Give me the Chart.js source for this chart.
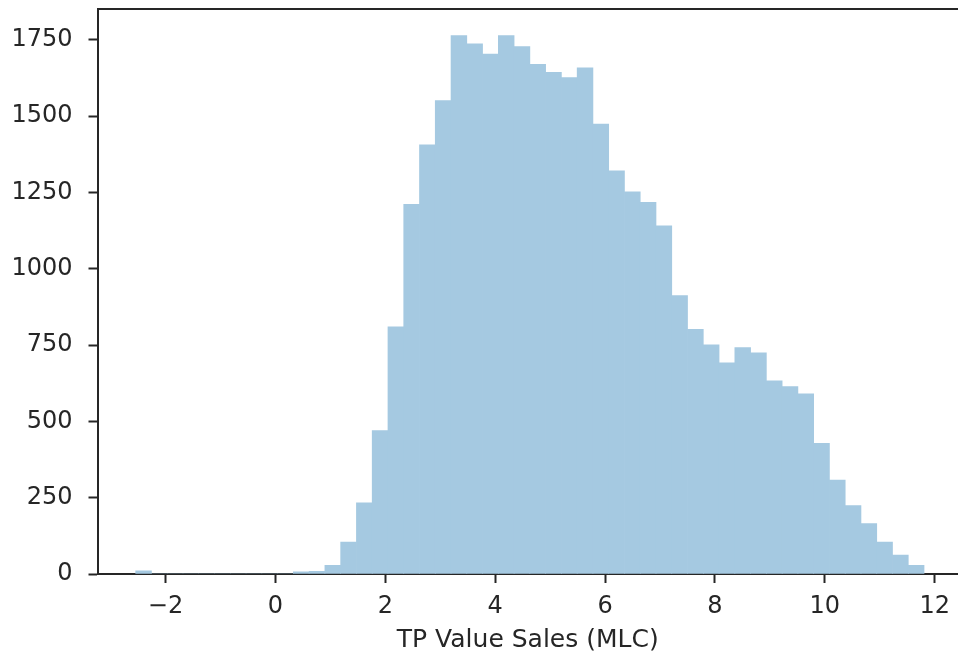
<!DOCTYPE html>
<html>
<head>
<meta charset="utf-8">
<script src="https://cdn.jsdelivr.net/npm/chart.js@4/dist/chart.umd.min.js"></script>
<style>
  html, body { margin: 0; padding: 0; background: #ffffff; overflow: hidden; }
  #wrap { position: relative; width: 958px; height: 657px; }
</style>
</head>
<body>
<div id="wrap"><canvas id="hist" width="958" height="657"></canvas></div>
<script>
// Histogram of TP value sales: 50 equal-width bins
const binStart = -2.543;
const binWidth = 0.28698;
const binCounts = [
  10, 0, 0, 0, 0, 0, 0, 0, 0, 0,
  7, 9, 28, 105, 233, 470, 810, 1211, 1406, 1551,
  1764, 1737, 1704, 1764, 1728, 1670, 1644, 1627, 1659, 1474,
  1321, 1252, 1218, 1141, 912, 802, 751, 692, 742, 725,
  633, 614, 590, 428, 308, 224, 165, 105, 62, 28
];
const xTickValues = [-2, 0, 2, 4, 6, 8, 10, 12];
const yTickValues = [0, 250, 500, 750, 1000, 1250, 1500, 1750];
const xTitle = 'TP Value Sales (MLC)';

const xRange = [-3.238, 12.424];
const yRange = [0, 1853];

const points = binCounts.map((c, i) => ({ x: binStart + binWidth * (i + 0.5), y: c }));

const FONT = { family: '"DejaVu Sans", sans-serif', size: 24 };
const TITLE_FONT = { family: '"DejaVu Sans", sans-serif', size: 25 };
const INK = '#262626';

function fixTicks(values) {
  return function (scale) { scale.ticks = values.map(v => ({ value: v })); };
}
function noPad(scale) {
  scale.paddingTop = 0; scale.paddingBottom = 0;
  scale.paddingLeft = 0; scale.paddingRight = 0;
}
const fmt = v => (v < 0 ? '\u2212' + Math.abs(v) : String(v));

new Chart(document.getElementById('hist'), {
  type: 'bar',
  data: {
    datasets: [{
      data: points,
      backgroundColor: '#a5c9e1',
      borderWidth: 0,
      barPercentage: 1.0,
      categoryPercentage: 1.0
    }]
  },
  options: {
    responsive: false,
    animation: false,
    events: [],
    layout: { padding: 0 },
    plugins: { legend: { display: false }, tooltip: { enabled: false } },
    scales: {
      x: {
        type: 'linear',
        position: 'bottom',
        offset: false,
        min: xRange[0], max: xRange[1],
        afterBuildTicks: fixTicks(xTickValues),
        afterFit: s => { s.height = 83; noPad(s); },
        grid: { display: true, offset: false, drawOnChartArea: false, drawTicks: true, tickLength: 9, tickWidth: 2, color: INK },
        border: { display: true, color: INK, width: 2 },
        ticks: { color: INK, font: FONT, padding: 9, maxRotation: 0, autoSkip: false, callback: v => fmt(v) },
        title: { display: true, text: xTitle, color: INK, font: TITLE_FONT, padding: { top: 0, bottom: 2 } }
      },
      xTop: {
        type: 'linear',
        position: 'top',
        min: xRange[0], max: xRange[1],
        afterFit: s => { s.height = 8.5; noPad(s); },
        grid: { display: false },
        border: { display: true, color: INK, width: 2 },
        ticks: { display: false }
      },
      y: {
        type: 'linear',
        position: 'left',
        min: yRange[0], max: yRange[1],
        afterBuildTicks: fixTicks(yTickValues),
        afterFit: s => { s.width = 97.5; noPad(s); },
        grid: { display: true, drawOnChartArea: false, drawTicks: true, tickLength: 9, tickWidth: 2, color: INK },
        border: { display: true, color: INK, width: 2 },
        ticks: { color: INK, font: FONT, padding: 16, autoSkip: false, callback: v => fmt(v) }
      }
    }
  }
});
</script>
</body>
</html>
